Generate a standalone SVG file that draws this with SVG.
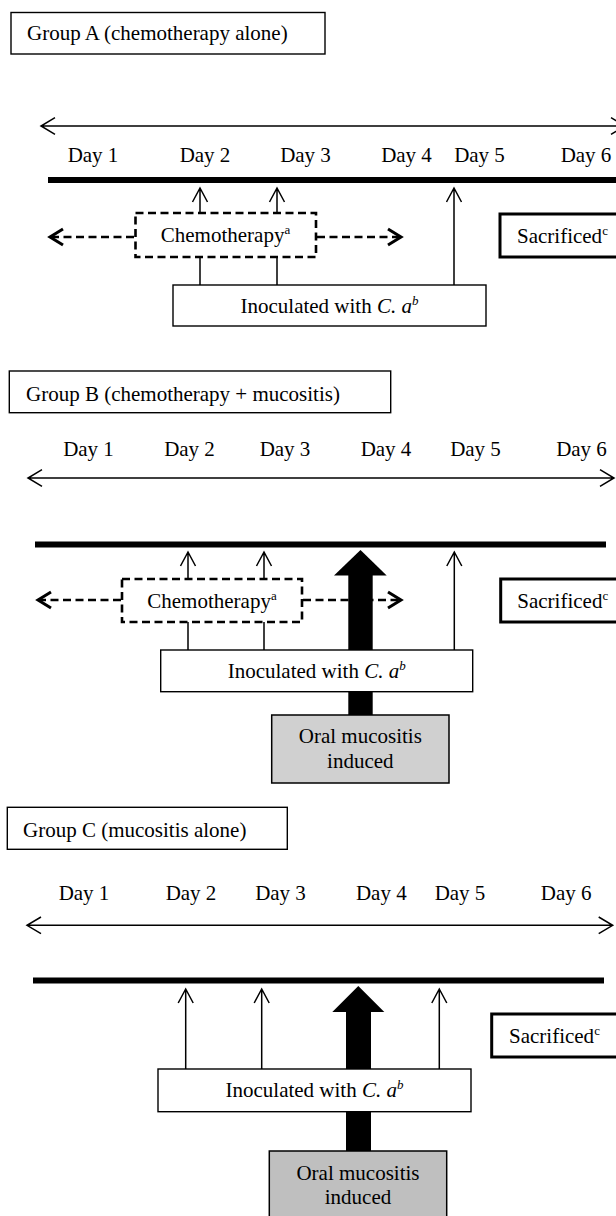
<svg xmlns="http://www.w3.org/2000/svg" width="616" height="1216" viewBox="0 0 616 1216">
<style>
  text { font-family: "Liberation Serif", "Times New Roman", serif; font-size: 21px; fill: #000; }
  .mid { text-anchor: middle; }
  .sup { font-size: 13px; }
  .it { font-style: italic; }
  .box { fill: #fff; stroke: #000; stroke-width: 1.4; }
  .sac { fill: #fff; stroke: #000; stroke-width: 3; }
  .dbox { fill: none; stroke: #000; stroke-width: 2.6; stroke-dasharray: 8 4.5; }
  .thin { fill: none; stroke: #000; stroke-width: 1.5; }
  .axis { fill: none; stroke: #000; stroke-width: 1.5; }
  .thick { fill: none; stroke: #000; stroke-width: 6; }
  .dash { fill: none; stroke: #000; stroke-width: 2.6; stroke-dasharray: 8 4.5; }
  .dhead { fill: none; stroke: #000; stroke-width: 3; }
  .big { fill: #000; stroke: none; }
  .oralB { fill: #d0d0d0; stroke: #000; stroke-width: 1.5; }
  .oralC { fill: #bfbfbf; stroke: #000; stroke-width: 1.5; }
</style>

<!-- ===== Connectors ===== -->
<g id="connectors">
  <!-- Group A -->
  <path class="thin" d="M200 213 V188 M192.5 202 L200 188 L207.5 202"/>
  <path class="thin" d="M277 213 V188 M269.5 202 L277 188 L284.5 202"/>
  <path class="thin" d="M454 285 V188 M446.5 202 L454 188 L461.5 202"/>
  <path class="thin" d="M200 257 V285 M277 257 V285"/>
  <path class="dash" d="M134 237 H52"/>
  <path class="dhead" d="M63 229 L50 237 L63 245"/>
  <path class="dash" d="M317 237 H399"/>
  <path class="dhead" d="M388 229 L401 237 L388 245"/>

  <!-- Group B -->
  <path class="big" d="M348.3 574 H372.7 V716 H348.3 Z"/>
  <path class="big" d="M334 575.5 L386.7 575.5 L360.5 550 Z"/>
  <path class="thin" d="M188 579 V552 M180.5 566 L188 552 L195.5 566"/>
  <path class="thin" d="M264 579 V552 M256.5 566 L264 552 L271.5 566"/>
  <path class="thin" d="M454.3 650 V552 M446.8 566 L454.3 552 L461.8 566"/>
  <path class="thin" d="M188 622 V650 M264 622 V650"/>
  <path class="dash" d="M121 600 H40"/>
  <path class="dhead" d="M51 592 L38 600 L51 608"/>
  <path class="dash" d="M303 600 H399"/>
  <path class="dhead" d="M388 592 L401 600 L388 608"/>

  <!-- Group C -->
  <path class="big" d="M346 1011 H371 V1152 H346 Z"/>
  <path class="big" d="M332.3 1012 L384.3 1012 L358.3 986 Z"/>
  <path class="thin" d="M185.7 1069 V989 M178.2 1003 L185.7 989 L193.2 1003"/>
  <path class="thin" d="M261.7 1069 V989 M254.2 1003 L261.7 989 L269.2 1003"/>
  <path class="thin" d="M439.3 1069 V989 M431.8 1003 L439.3 989 L446.8 1003"/>
</g>

<!-- ===== Group A ===== -->
<g id="timelineA">
  <path class="axis" d="M41 126 H625 M55 117.7 L41 126 L55 134.3 M611 117.7 L625 126 L611 134.3"/>
  <text class="mid" x="93" y="162">Day 1</text>
  <text class="mid" x="205" y="162">Day 2</text>
  <text class="mid" x="305.5" y="162">Day 3</text>
  <text class="mid" x="406.5" y="162">Day 4</text>
  <text class="mid" x="479.5" y="162">Day 5</text>
  <text class="mid" x="586" y="162">Day 6</text>
  <path class="thick" d="M48 180 H620"/>
</g>
<g id="labelA">
  <rect class="box" x="11" y="12.5" width="314" height="41.5"/>
  <text x="27" y="40">Group A (chemotherapy alone)</text>
</g>
<g id="chemoA">
  <rect class="dbox" x="135.5" y="213" width="180.5" height="44"/>
  <text class="mid" x="225.5" y="242">Chemotherapy<tspan class="sup" dy="-8">a</tspan></text>
</g>
<g id="inocA">
  <rect class="box" x="173" y="285" width="313" height="41"/>
  <text class="mid" x="329.5" y="312.5">Inoculated with <tspan class="it">C. a</tspan><tspan class="it sup" dy="-8">b</tspan></text>
</g>
<g id="sacA">
  <rect class="sac" x="500" y="214" width="130" height="43"/>
  <text x="517" y="243">Sacrificed<tspan class="sup" dy="-8">c</tspan></text>
</g>

<!-- ===== Group B ===== -->
<g id="timelineB">
  <text class="mid" x="88.5" y="456">Day 1</text>
  <text class="mid" x="189.5" y="456">Day 2</text>
  <text class="mid" x="285" y="456">Day 3</text>
  <text class="mid" x="386" y="456">Day 4</text>
  <text class="mid" x="475.5" y="456">Day 5</text>
  <text class="mid" x="581.5" y="456">Day 6</text>
  <path class="axis" d="M28 478 H614 M42 469.7 L28 478 L42 486.3 M600 469.7 L614 478 L600 486.3"/>
  <path class="thick" d="M35 544.5 H606"/>
</g>
<g id="labelB">
  <rect class="box" x="9.3" y="371" width="381.4" height="41.7"/>
  <text x="26" y="400.5">Group B (chemotherapy + mucositis)</text>
</g>
<g id="chemoB">
  <rect class="dbox" x="122" y="579" width="180" height="43"/>
  <text class="mid" x="212" y="607.5">Chemotherapy<tspan class="sup" dy="-8">a</tspan></text>
</g>
<g id="inocB">
  <rect class="box" x="160.7" y="650" width="312" height="41.7"/>
  <text class="mid" x="316.7" y="678">Inoculated with <tspan class="it">C. a</tspan><tspan class="it sup" dy="-8">b</tspan></text>
</g>
<g id="oralB">
  <rect class="oralB" x="271.7" y="715" width="177.3" height="68"/>
  <text class="mid" x="360.3" y="743">Oral mucositis</text>
  <text class="mid" x="360.3" y="768">induced</text>
</g>
<g id="sacB">
  <rect class="sac" x="500.7" y="579" width="130" height="43"/>
  <text x="517.3" y="607.5">Sacrificed<tspan class="sup" dy="-8">c</tspan></text>
</g>

<!-- ===== Group C ===== -->
<g id="timelineC">
  <text class="mid" x="84" y="900">Day 1</text>
  <text class="mid" x="191" y="900">Day 2</text>
  <text class="mid" x="280.5" y="900">Day 3</text>
  <text class="mid" x="381.3" y="900">Day 4</text>
  <text class="mid" x="460" y="900">Day 5</text>
  <text class="mid" x="566.2" y="900">Day 6</text>
  <path class="axis" d="M27 925.3 H612.7 M41 917 L27 925.3 L41 933.6 M598.7 917 L612.7 925.3 L598.7 933.6"/>
  <path class="thick" d="M33 980.5 H604"/>
</g>
<g id="labelC">
  <rect class="box" x="7.3" y="807.3" width="280" height="42"/>
  <text x="23" y="836.5">Group C (mucositis alone)</text>
</g>
<g id="inocC">
  <rect class="box" x="158" y="1069" width="313" height="42.7"/>
  <text class="mid" x="314.5" y="1097">Inoculated with <tspan class="it">C. a</tspan><tspan class="it sup" dy="-8">b</tspan></text>
</g>
<g id="oralC">
  <rect class="oralC" x="269.3" y="1151" width="177.4" height="70"/>
  <text class="mid" x="358" y="1180">Oral mucositis</text>
  <text class="mid" x="358" y="1204">induced</text>
</g>
<g id="sacC">
  <rect class="sac" x="491.7" y="1014" width="135" height="43"/>
  <text x="509" y="1042.7">Sacrificed<tspan class="sup" dy="-8">c</tspan></text>
</g>
</svg>
